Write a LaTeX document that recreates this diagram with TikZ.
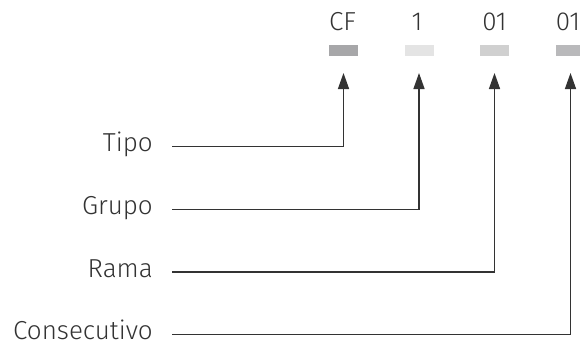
\documentclass[tikz,border=0pt]{standalone}
\usepackage{fontspec}
\setmainfont{Fira Sans}[UprightFont={* Light}]
\usetikzlibrary{arrows.meta}
\definecolor{ink}{HTML}{333333}
\definecolor{barA}{HTML}{A7A7A9}
\definecolor{barB}{HTML}{E4E4E4}
\definecolor{barC}{HTML}{D0D0D0}
\definecolor{barD}{HTML}{B9B9BB}
\tikzset{
  txt/.style={inner sep=0pt, text=ink, font=\fontsize{26}{30}\selectfont},
  codetxt/.style={txt, anchor=base},
  lbl/.style={txt, anchor=base east},
  bar/.style={draw=none, fill=#1, minimum width=29pt, minimum height=10.5pt, inner sep=0pt},
  conn/.style={draw=ink, line width=1.4pt, -{Triangle[length=16pt,width=11pt]}}
}
\begin{document}
\begin{tikzpicture}[x=1pt,y=-1pt]
\useasboundingbox (0,0) rectangle (580,343);
% top code
\node[codetxt] (cCF) at (342.5,30.5) {CF};
\node[codetxt] (cG)  at (417,30.5) {1};
\node[codetxt] (cR)  at (494.5,30.5) {01};
\node[codetxt] (cC)  at (568,30.5) {01};
\node[bar=barA] (bCF) at (343.5,50.5) {};
\node[bar=barB] (bG)  at (419,50.5) {};
\node[bar=barC] (bR)  at (494.5,50.5) {};
\node[bar=barD] (bC)  at (570.5,50.5) {};
% arrow tips
\coordinate (tCF) at (343.5,73);
\coordinate (tG)  at (419,73);
\coordinate (tR)  at (494.5,73);
\coordinate (tC)  at (570.5,73);
% labels
\node[lbl] (lT) at (153,151.5) {Tipo};
\node[lbl] (lG) at (153,214.5) {Grupo};
\node[lbl] (lR) at (153,277) {Rama};
\node[lbl] (lC) at (153,339) {Consecutivo};
% line starts
\coordinate (sT) at (172,146.5);
\coordinate (sG) at (172,209.5);
\coordinate (sR) at (172,272);
\coordinate (sC) at (172,334.5);
\draw[conn] (sT) -| (tCF);
\draw[conn] (sG) -| (tG);
\draw[conn] (sR) -| (tR);
\draw[conn] (sC) -| (tC);
\end{tikzpicture}
\end{document}
